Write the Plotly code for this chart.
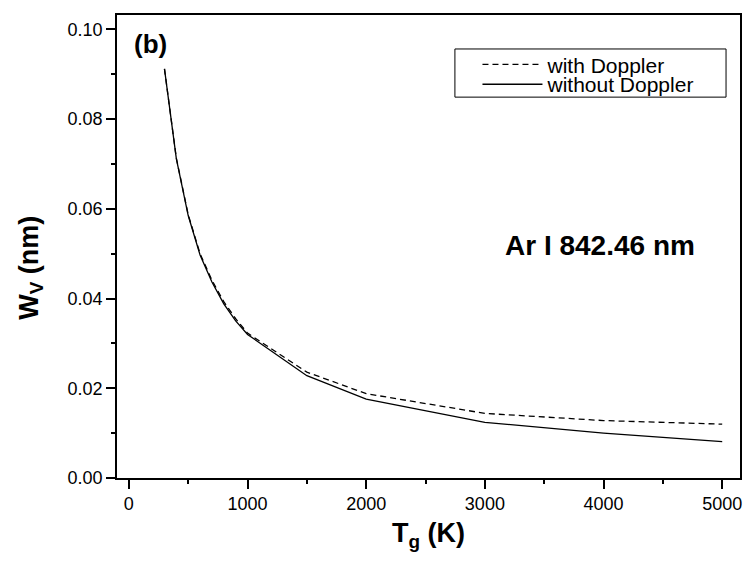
import plotly.graph_objects as go

# Data
T_g = [300, 400, 500, 600, 700, 800, 900, 1000, 1500, 2000, 3000, 4000, 5000]
w_with_doppler = [0.0912, 0.0713, 0.0587, 0.0500, 0.0441, 0.0393, 0.0355, 0.0323, 0.0236, 0.0188, 0.0144, 0.0128, 0.0120]
w_without_doppler = [0.0912, 0.0712, 0.0585, 0.0497, 0.0437, 0.0388, 0.0350, 0.0320, 0.0228, 0.0176, 0.0124, 0.0100, 0.0081]

x_ticks = [0, 1000, 2000, 3000, 4000, 5000]
y_ticks = [0.00, 0.02, 0.04, 0.06, 0.08, 0.10]

FONT = "Liberation Sans, Arial, sans-serif"

fig = go.Figure()
fig.add_trace(go.Scatter(x=T_g, y=w_with_doppler, mode="lines", name="with Doppler",
                         legend="legend",
                         line=dict(color="black", width=1.3, dash="6px,4px")))
fig.add_trace(go.Scatter(x=T_g, y=w_without_doppler, mode="lines", name="without Doppler",
                         legend="legend2",
                         line=dict(color="black", width=1.3)))

axis_common = dict(showgrid=False, zeroline=False, showline=True, linecolor="black",
                   linewidth=1.5, ticks="outside", tickcolor="black", tickwidth=1.5,
                   ticklen=9, tickfont=dict(family=FONT, size=18, color="black"))

legend_common = dict(x=0.5786, xanchor="left", yanchor="top",
                     bgcolor="rgba(0,0,0,0)", borderwidth=0, itemwidth=60,
                     font=dict(family=FONT, size=21, color="black"))

fig.update_layout(
    width=747, height=574,
    margin=dict(l=117, r=5, t=15, b=96),
    paper_bgcolor="white", plot_bgcolor="white",
    font=dict(family=FONT, color="black"),
    showlegend=True,
    legend=dict(y=0.937, **legend_common),
    legend2=dict(y=0.894, **legend_common),
    xaxis=dict(range=[-100, 5150], tickvals=x_ticks, mirror=True,
               minor=dict(dtick=500, ticklen=4, tickwidth=1.5, tickcolor="black", ticks="outside"),
               title=dict(text="<b>T<sub>g</sub> (K)</b>", font=dict(family=FONT, size=27), standoff=10),
               **axis_common),
    yaxis=dict(range=[0, 0.1032], tickvals=y_ticks, tickformat=".2f", mirror=True,
               minor=dict(dtick=0.01, ticklen=4, tickwidth=1.5, tickcolor="black", ticks="outside"),
               **axis_common),
    xaxis2=dict(range=[-100, 5150], overlaying="x", side="top", showgrid=False, zeroline=False,
                showline=False, ticks="inside", dtick=500, tick0=0, ticklen=4, tickwidth=1.5,
                tickcolor="black", showticklabels=False),
    yaxis2=dict(range=[0, 0.1032], overlaying="y", side="right", showgrid=False, zeroline=False,
                showline=False, ticks="inside", dtick=0.01, tick0=0, ticklen=4, tickwidth=1.5,
                tickcolor="black", showticklabels=False),
    shapes=[dict(type="rect", xref="paper", yref="paper", x0=0.5424, x1=0.9776, y0=0.8226, y1=0.9266,
                 line=dict(color="black", width=1))],
    annotations=[
        dict(x=3972, y=0.0518, xref="x", yref="y", text="<b>Ar I 842.46 nm</b>", showarrow=False,
             font=dict(family=FONT, size=28, color="black")),
        dict(x=182, y=0.0967, xref="x", yref="y", text="<b>(b)</b>", showarrow=False,
             font=dict(family=FONT, size=26, color="black")),
        dict(x=-0.1384, y=0.4536, xref="paper", yref="paper", text="<b>W<sub>V</sub> (nm)</b>",
             xanchor="center", yanchor="middle",
             showarrow=False, textangle=-90, font=dict(family=FONT, size=27, color="black")),
    ],
)

fig.write_html("out.html")
